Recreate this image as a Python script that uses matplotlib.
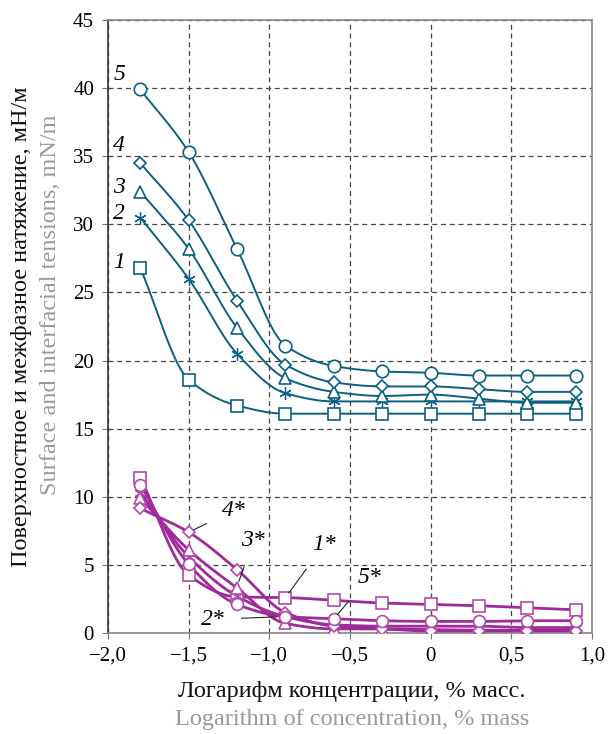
import numpy as np
import matplotlib
matplotlib.use("Agg")
import matplotlib.pyplot as plt

plt.rcParams['font.family'] = ['Liberation Serif', 'DejaVu Serif']

x = [-1.8, -1.5, -1.2, -0.9, -0.6, -0.3, 0.0, 0.3, 0.6, 0.9]

# Surface tensions (teal), curves 1..5
s1 = [26.8, 18.6, 16.7, 16.1, 16.1, 16.1, 16.1, 16.1, 16.1, 16.1]
s2 = [30.5, 26.0, 20.5, 17.6, 17.0, 17.0, 17.0, 17.0, 17.0, 17.0]
s3 = [32.4, 28.2, 22.4, 18.7, 17.7, 17.4, 17.5, 17.2, 16.9, 16.9]
s4 = [34.5, 30.3, 24.4, 19.7, 18.4, 18.1, 18.1, 17.9, 17.7, 17.7]
s5 = [39.9, 35.3, 28.2, 21.1, 19.6, 19.2, 19.1, 18.9, 18.9, 18.9]

# Interfacial tensions (magenta), curves 1*..5*
i1 = [11.4, 4.25, 2.65, 2.6, 2.4, 2.2, 2.1, 2.0, 1.85, 1.7]
i2 = [10.3, 5.6, 2.7, 1.2, 0.6, 0.5, 0.5, 0.5, 0.4, 0.4]
i3 = [9.9, 6.1, 3.3, 0.7, 0.3, 0.3, 0.25, 0.2, 0.2, 0.2]
i4 = [9.15, 7.4, 4.65, 1.5, 0.5, 0.3, 0.15, 0.15, 0.15, 0.15]
i5 = [10.9, 5.05, 2.1, 1.2, 1.05, 0.9, 0.85, 0.85, 0.9, 0.9]

xticks = [-2.0, -1.5, -1.0, -0.5, 0.0, 0.5, 1.0]
xticklabels = ['\u22122,0', '\u22121,5', '\u22121,0', '\u22120,5', '0', '0,5', '1,0']
yticks = [0, 5, 10, 15, 20, 25, 30, 35, 40, 45]

TEAL = '#0b5f82'
MAG = '#a12a9b'
MAG_M = '#b04aaa'


def pchip(xs, ys, xn):
    xs = np.asarray(xs, float); ys = np.asarray(ys, float)
    h = np.diff(xs); d = np.diff(ys) / h
    n = len(xs)
    m = np.zeros(n)
    for k in range(1, n - 1):
        if d[k - 1] * d[k] <= 0:
            m[k] = 0
        else:
            w1 = 2 * h[k] + h[k - 1]; w2 = h[k] + 2 * h[k - 1]
            m[k] = (w1 + w2) / (w1 / d[k - 1] + w2 / d[k])
    m[0] = d[0]; m[-1] = d[-1]
    out = np.empty_like(xn)
    for j, xv in enumerate(xn):
        k = min(max(np.searchsorted(xs, xv) - 1, 0), n - 2)
        t = (xv - xs[k]) / h[k]
        h00 = 2*t**3 - 3*t**2 + 1; h10 = t**3 - 2*t**2 + t
        h01 = -2*t**3 + 3*t**2; h11 = t**3 - t**2
        out[j] = h00*ys[k] + h10*h[k]*m[k] + h01*ys[k+1] + h11*h[k]*m[k+1]
    return out


fig = plt.figure(figsize=(6.08, 7.34), dpi=100)
ax = fig.add_axes([108/608, 1 - 633/734, (592-108)/608, (633-20)/734])

xn = np.linspace(x[0], x[-1], 400)

AST = (6, 2, 0)
series = [
    (s1, TEAL, TEAL, 's', 8, 1.4), (s2, TEAL, TEAL, AST, 9, 1.4), (s3, TEAL, TEAL, '^', 8.5, 1.4),
    (s4, TEAL, TEAL, 'D', 6.5, 1.4), (s5, TEAL, TEAL, 'o', 9, 1.4),
    (i1, MAG, MAG_M, 's', 8.5, 2.0), (i2, MAG, MAG_M, AST, 9, 2.0), (i3, MAG, MAG_M, '^', 8.5, 2.0),
    (i4, MAG, MAG_M, 'D', 6.5, 2.0), (i5, MAG, MAG_M, 'o', 8.5, 2.0),
]
for ys, c, mc, mk, ms, lw in series:
    ax.plot(xn, pchip(x, ys, xn), color=c, lw=lw, zorder=3)
for ys, c, mc, mk, ms, lw in series:
    ax.plot(x, ys, ls='none', marker=mk, ms=ms, mfc='white', mec=mc,
            mew=0.9 if mk == AST else 1.2, zorder=4)

ax.set_xlim(-2.0, 1.0)
ax.set_ylim(0, 45)
ax.set_xticks(xticks)
ax.set_xticklabels(xticklabels)
ax.set_yticks(yticks)
ax.tick_params(labelsize=15, direction='out', length=4, color='#777777', pad=6)
ax.grid(True, ls=(0, (4, 3)), color='#444444', lw=0.9, zorder=1)
for side in ['top', 'right', 'bottom']:
    ax.spines[side].set_color('#888888')
ax.spines['left'].set_color('#333333')
for sp in ax.spines.values():
    sp.set_linewidth(1.2)

# curve labels
for txt, yy in [('5', 41.0), ('4', 35.8), ('3', 32.7), ('2', 30.8), ('1', 27.2)]:
    ax.text(-1.93, yy, txt, fontsize=17, style='italic', ha='center', va='center', zorder=5)

ann = [
    ('4*', (-1.5, 7.4), (-1.22, 9.0)),
    ('3*', (-1.2, 3.4), (-1.10, 6.8)),
    ('1*', (-0.9, 2.6), (-0.66, 6.5)),
    ('2*', (-0.92, 1.2), (-1.35, 1.0)),
    ('5*', (-0.6, 1.05), (-0.38, 4.1)),
]
for txt, xy, xyt in ann:
    ax.annotate(txt, xy=xy, xytext=xyt, fontsize=17, style='italic', ha='center', va='center',
                arrowprops=dict(arrowstyle='-', color='#222222', lw=0.8, shrinkA=10, shrinkB=4),
                zorder=6)

fig.text(22/608, 1 - 327/734, 'Поверхностное и межфазное натяжение, мН/м', rotation=90,
         fontsize=17.5, ha='center', va='center', color='#111111')
fig.text(51/608, 1 - 305/734, 'Surface and interfacial tensions, mN/m', rotation=90,
         fontsize=17.5, ha='center', va='center', color='#999999')
fig.text(352/608, 1 - 692/734, 'Логарифм концентрации, % масс.', fontsize=17.5,
         ha='center', va='center', color='#111111')
fig.text(352/608, 1 - 719/734, 'Logarithm of concentration, % mass', fontsize=17.5,
         ha='center', va='center', color='#999999')

fig.savefig('out.png', dpi=100)
